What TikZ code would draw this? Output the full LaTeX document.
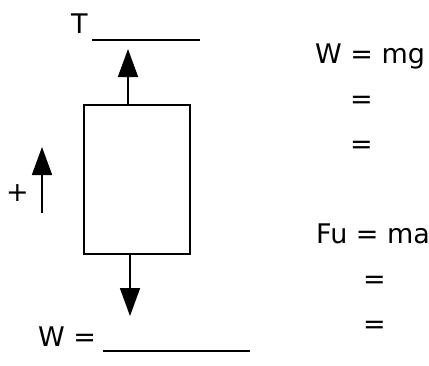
\documentclass[tikz,border=0pt]{standalone}
\usepackage{fontspec}
\setmainfont{DejaVu Sans}
\usetikzlibrary{arrows.meta,positioning}

\begin{document}
\begin{tikzpicture}[
    x=1pt, y=-1pt,
    >={Triangle[length=28pt, width=20pt]},
    node font=\fontsize{27}{32}\selectfont,
    body box/.style={draw, line width=1.6pt, minimum width=106pt, minimum height=149pt, inner sep=0pt},
    force arrow/.style={->, line width=1.8pt},
    blank line/.style={line width=1.2pt},
    txt/.style={anchor=base west, inner sep=0pt},
]

% Frame
\useasboundingbox (0,0) rectangle (429,365);

% Body
\node[body box] (box) at (137,179.5) {};

% Tension and weight
\coordinate (tEnd) at (128,49);
\coordinate (wTip) at (130,316);
\draw[force arrow] (box.north -| tEnd) -- (tEnd);
\draw[force arrow] (box.south -| wTip) -- (wTip);

% Positive direction
\node[txt] (plus) at (6,201) {+};
\coordinate (pBot) at (42,213);
\coordinate (pTop) at (42,147);
\draw[force arrow] (pBot) -- (pTop);

% Labels with blanks
\node[txt] (tLbl) at (71,33) {T};
\coordinate (tBlank) at (200,40);
\draw[blank line] (92,40) -- (tBlank);

\node[txt] (wLbl) at (38,346) {W =};
\coordinate (wBlank) at (250,351);
\draw[blank line] (103,351) -- (wBlank);

% Working on the right
\node[txt] (wEq) at (315,63) {W = mg};
\node[txt] (wEq1) at (350,108) {=};
\node[txt] (wEq2) at (350,153) {=};

\node[txt] (fEq) at (316,243) {Fu = ma};
\node[txt] (fEq1) at (363,288) {=};
\node[txt] (fEq2) at (363,333) {=};

\end{tikzpicture}
\end{document}
